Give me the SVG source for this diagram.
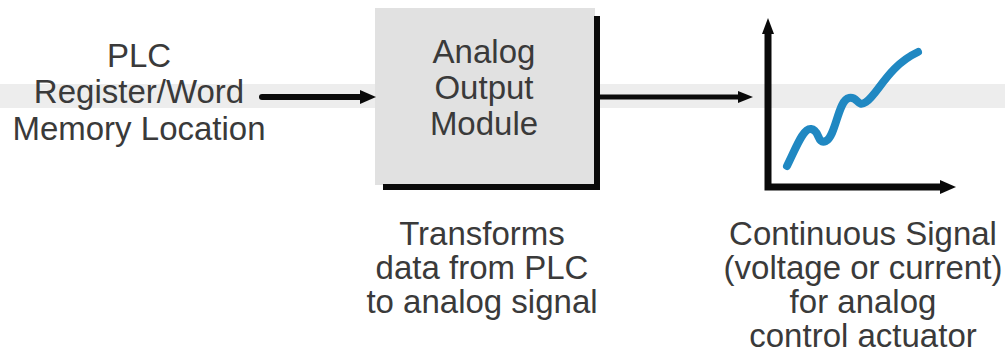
<svg xmlns="http://www.w3.org/2000/svg" width="1005" height="352" viewBox="0 0 1005 352">
<style>
.lbl{font-family:"Liberation Sans",Arial,sans-serif;font-size:33px;fill:#3a3a3a;text-anchor:middle}
.ln{stroke:#0a0a0a;fill:none}
.hd{fill:#0a0a0a}
</style>
<rect x="0" y="0" width="1005" height="352" fill="#ffffff"/>
<rect x="0" y="84" width="1005" height="24" fill="#ededed"/>
<g id="module">
<rect x="375" y="8" width="220" height="177" fill="#e1e1e1"/>
<path class="ln" d="M597,16 V190 M383,187 H600" stroke-width="6"/>
<text class="lbl" x="484" y="63">Analog</text>
<text class="lbl" x="484" y="99">Output</text>
<text class="lbl" x="484" y="135">Module</text>
</g>
<g id="plc-register">
<text class="lbl" x="139" y="67">PLC</text>
<text class="lbl" x="139" y="103">Register/Word</text>
<text class="lbl" x="139" y="140">Memory Location</text>
</g>
<g id="graph">
<path class="ln" d="M768,30 V187 H944" stroke-width="7"/>
<polygon class="hd" points="768,18 774,34 762,34"/>
<polygon class="hd" points="956,187 940,194 940,180"/>
<path d="M787,166 C796,148 803,128 811,129 C820,130 817,145 826,141 C836,136 838,100 849,98 C858,96 857,108 866,102 C878,94 888,66 918,52" fill="none" stroke="#2088c2" stroke-width="8" stroke-linecap="round" stroke-linejoin="round"/>
</g>
<g id="connectors">
<path class="ln" d="M262,97 H362" stroke-width="6" stroke-linecap="round"/>
<polygon class="hd" points="376,97 360,90 360,104"/>
<path class="ln" d="M597,97 H740" stroke-width="5"/>
<polygon class="hd" points="753,97 738,91 738,103"/>
</g>
<g id="transform-note">
<text class="lbl" x="482" y="245">Transforms</text>
<text class="lbl" x="482" y="279">data from PLC</text>
<text class="lbl" x="482" y="313">to analog signal</text>
</g>
<g id="signal-note">
<text class="lbl" x="863" y="245">Continuous Signal</text>
<text class="lbl" x="863" y="279">(voltage or current)</text>
<text class="lbl" x="863" y="313">for analog</text>
<text class="lbl" x="863" y="347">control actuator</text>
</g>
</svg>
